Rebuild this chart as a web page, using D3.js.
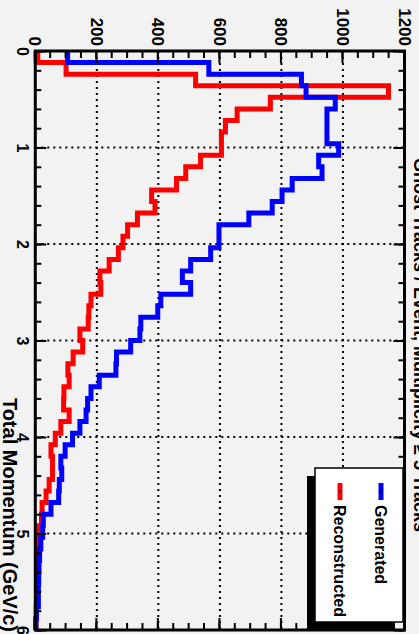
<!DOCTYPE html>
<html>
<head>
<meta charset="utf-8">
<script src="https://cdn.jsdelivr.net/npm/d3@7"></script>
<style>
  body { margin: 0; background: #f2f2f2; }
  svg { display: block; }
  text { font-family: "Liberation Sans", Arial, sans-serif; font-weight: bold; fill: #000; }
</style>
</head>
<body>
<svg width="419" height="634"></svg>
<script>
// histogram contents, 50 bins of 0.12 GeV/c from 0 to 6
const binWidth = 0.12;
const generated = [
  105, 564, 865, 880, 975, 948, 948, 948, 986, 921,
  932, 835, 802, 770, 694, 597, 597, 570, 505, 478,
  505, 408, 398, 343, 340, 310, 264, 262, 208, 181,
  170, 165, 145, 121, 97, 83, 86, 78, 76, 51,
  26, 24, 18, 14, 12, 11, 10, 10, 4, 2
];
const reconstructed = [
  8, 100, 521, 1148, 764, 656, 618, 605, 605, 537,
  489, 459, 378, 389, 332, 300, 285, 270, 240, 210,
  213, 181, 174, 172, 145, 154, 123, 106, 110, 93,
  92, 110, 83, 65, 51, 56, 56, 45, 35, 22,
  20, 12, 8, 8, 6, 6, 5, 4, 3, 2
];
const momentumTicks = [0, 1, 2, 3, 4, 5, 6];
const momentumMinor = d3.range(0, 6.001, 0.2);
const countTicks = [0, 200, 400, 600, 800, 1000, 1200];
const countMinor = d3.range(0, 1201, 50);
const legendItems = [
  { label: 'Generated', color: '#0000ff' },
  { label: 'Reconstructed', color: '#ff0000' }
];
const title = 'Ghost Tracks / Event, Multiplicity \u2265 5 Tracks';
const xLabel = 'Total Momentum (GeV/c)';

// the whole canvas is drawn landscape, then turned a quarter clockwise
const svg = d3.select('svg');
const g = svg.append('g').attr('transform', 'translate(419,0) rotate(90)');

const x = d3.scaleLinear().domain([0, 6]).range([51, 630]);
const y = d3.scaleLinear().domain([0, 1200]).range([383.7, 14.5]);

g.append('rect')
  .attr('x', -5).attr('y', -5).attr('width', 650).attr('height', 430)
  .attr('fill', '#f2f2f2');

// dotted grid
g.append('g').selectAll('line')
  .data(countTicks.slice(1, -1))
  .enter().append('line')
    .attr('x1', x(0)).attr('x2', x(6))
    .attr('y1', d => y(d)).attr('y2', d => y(d))
    .attr('stroke', '#000').attr('stroke-width', 2)
    .attr('stroke-dasharray', '2,4');
g.append('g').selectAll('line')
  .data(momentumTicks.slice(1, -1))
  .enter().append('line')
    .attr('x1', d => x(d)).attr('x2', d => x(d))
    .attr('y1', y(0)).attr('y2', y(1200))
    .attr('stroke', '#000').attr('stroke-width', 2)
    .attr('stroke-dasharray', '2,4');

// histograms
const stepLine = d3.line()
  .x(d => x(d[0]))
  .y(d => y(d[1]))
  .curve(d3.curveStepAfter);
const toSteps = vals => {
  const pts = vals.map((v, i) => [i * binWidth, v]);
  pts.push([6, vals[vals.length - 1]]);
  return pts;
};
[reconstructed, generated].forEach((vals, k) => {
  g.append('path')
    .attr('d', stepLine(toSteps(vals)))
    .attr('fill', 'none')
    .attr('stroke', k === 0 ? '#ff0000' : '#0000ff')
    .attr('stroke-width', 5)
    .attr('stroke-linejoin', 'miter');
});

// axes
const strip = sel => sel.select('.domain').remove();
const fmt = d3.format('d');
g.append('g').attr('transform', `translate(${x(0)},0)`)
  .call(d3.axisLeft(y).tickValues(countMinor).tickSize(-7).tickFormat(''))
  .call(strip);
const yAxisG = g.append('g').attr('transform', `translate(${x(0)},0)`)
  .call(d3.axisLeft(y).tickValues(countTicks).tickSize(-12).tickPadding(5).tickFormat(fmt))
  .call(strip);
g.append('g').attr('transform', `translate(${x(6)},0)`)
  .call(d3.axisRight(y).tickValues(countMinor).tickSize(-7).tickFormat(''))
  .call(strip);
g.append('g').attr('transform', `translate(${x(6)},0)`)
  .call(d3.axisRight(y).tickValues(countTicks).tickSize(-12).tickFormat(''))
  .call(strip);

g.append('g').attr('transform', `translate(0,${y(0)})`)
  .call(d3.axisBottom(x).tickValues(momentumMinor).tickSize(-6).tickFormat(''))
  .call(strip);
const xAxisG = g.append('g').attr('transform', `translate(0,${y(0)})`)
  .call(d3.axisBottom(x).tickValues(momentumTicks).tickSize(-11).tickPadding(7).tickFormat(fmt))
  .call(strip);
g.append('g').attr('transform', `translate(0,${y(1200)})`)
  .call(d3.axisTop(x).tickValues(momentumMinor).tickSize(-6).tickFormat(''))
  .call(strip);
g.append('g').attr('transform', `translate(0,${y(1200)})`)
  .call(d3.axisTop(x).tickValues(momentumTicks).tickSize(-11).tickFormat(''))
  .call(strip);

g.selectAll('.tick line').attr('stroke', '#000').attr('stroke-width', 2);
yAxisG.selectAll('text').style('font-size', '17px');
xAxisG.selectAll('text').style('font-size', '16px');

// frame
g.append('rect')
  .attr('x', x(0)).attr('y', y(1200))
  .attr('width', x(6) - x(0)).attr('height', y(0) - y(1200))
  .attr('fill', 'none').attr('stroke', '#000').attr('stroke-width', 3);

// titles
g.append('text')
  .attr('x', 632).attr('y', 416)
  .attr('text-anchor', 'end')
  .style('font-size', '20px')
  .text(xLabel);
g.append('text')
  .attr('x', 158).attr('y', 5)
  .style('font-size', '18px')
  .text(title);

// legend
const lg = g.append('g').attr('transform', 'translate(468,16)');
lg.append('rect')
  .attr('x', 8).attr('y', 8).attr('width', 154).attr('height', 88)
  .attr('fill', '#000');
lg.append('rect')
  .attr('width', 154).attr('height', 88)
  .attr('fill', '#fff').attr('stroke', '#000').attr('stroke-width', 1.5);
const entry = lg.selectAll('.entry').data(legendItems)
  .enter().append('g')
    .attr('class', 'entry')
    .attr('transform', (d, i) => `translate(0,${22 + i * 41})`);
entry.append('line')
  .attr('x1', 15).attr('x2', 32)
  .attr('stroke', d => d.color).attr('stroke-width', 5);
entry.append('rect')
  .attr('x', 22.5).attr('y', -1).attr('width', 2).attr('height', 2)
  .attr('fill', '#000');
entry.append('text')
  .attr('x', 37).attr('dy', '0.36em')
  .style('font-size', '16px')
  .text(d => d.label);
</script>
</body>
</html>
